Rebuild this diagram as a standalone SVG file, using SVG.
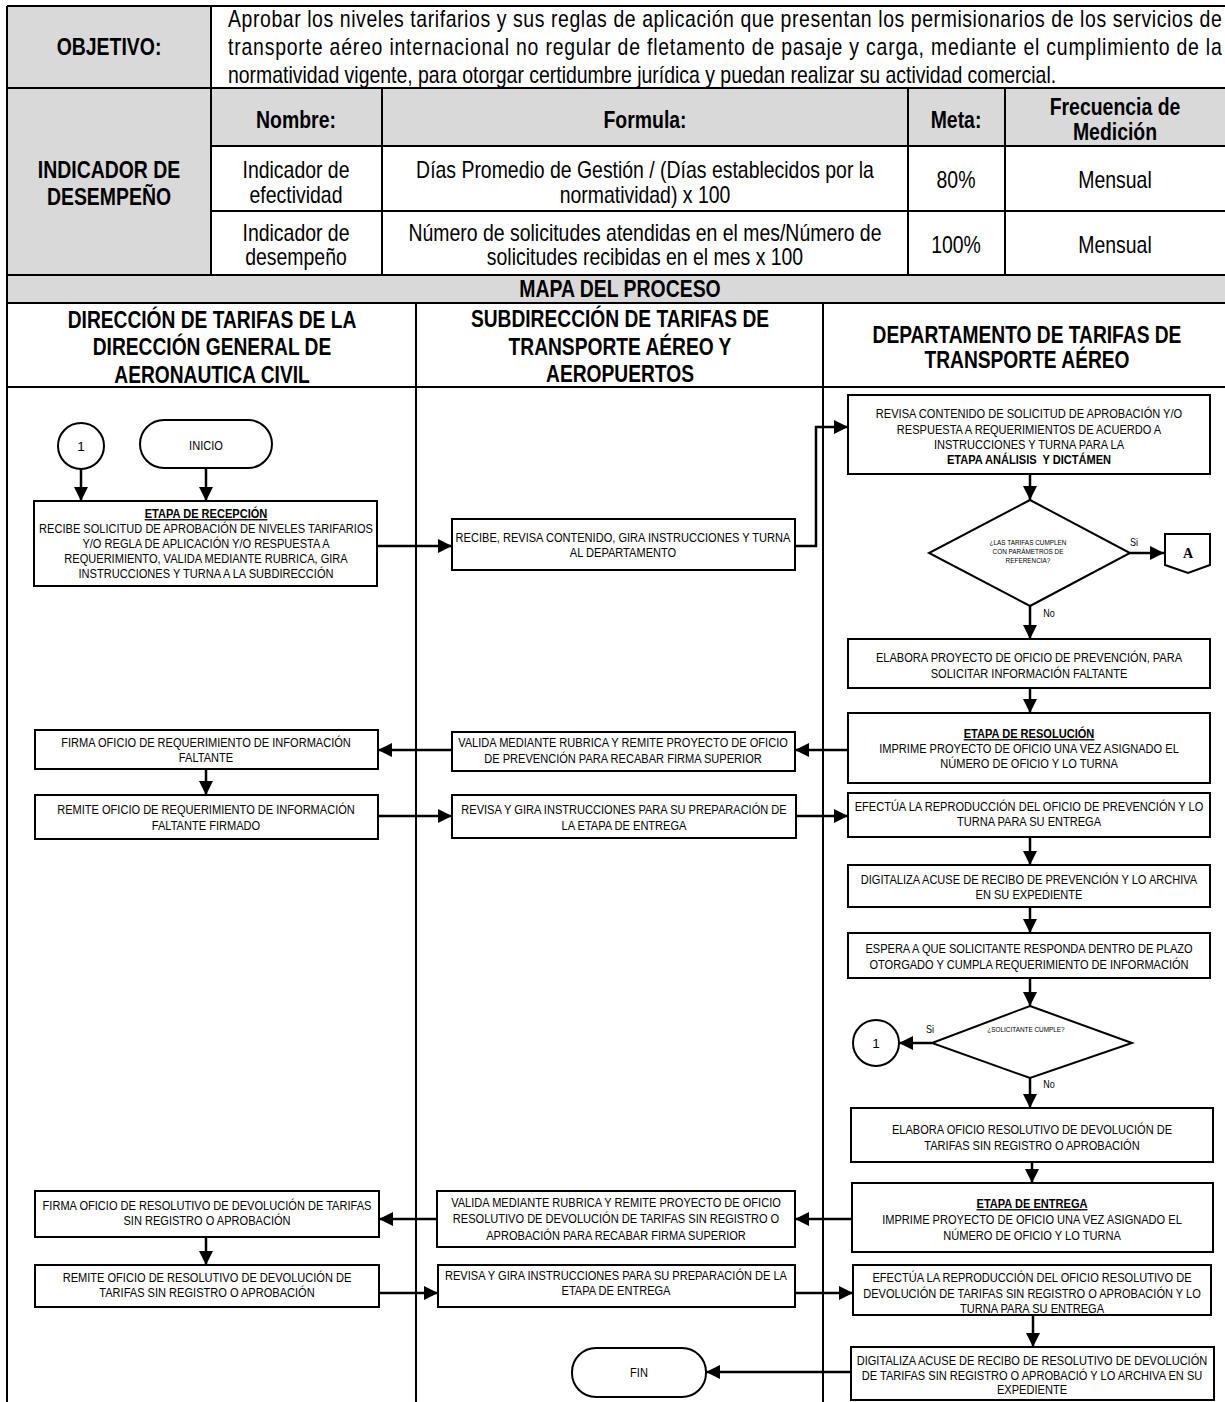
<svg xmlns="http://www.w3.org/2000/svg" width="1225" height="1402" viewBox="0 0 1225 1402">
<style>
.tt{font-family:"Liberation Sans",Arial,sans-serif;font-size:23px;text-anchor:middle;fill:#000}
.tl{font-family:"Liberation Sans",Arial,sans-serif;font-size:23px;fill:#000}
.b{font-weight:bold}
.bx{font-family:"Liberation Sans",Arial,sans-serif;font-size:13.5px;text-anchor:middle;fill:#000}
.sm{font-family:"Liberation Sans",Arial,sans-serif;font-size:8px;text-anchor:middle;fill:#000}
.lb{font-family:"Liberation Sans",Arial,sans-serif;font-size:11px;text-anchor:middle;fill:#000}
.u{text-decoration:underline}
.box{fill:#fff;stroke:#000;stroke-width:2}
.cn{fill:none;stroke:#000;stroke-width:2.5}
.ln{stroke:#000;stroke-width:2;fill:none}
.gr{fill:#d9d9d9}
</style>
<defs>
<marker id="ah" markerUnits="userSpaceOnUse" markerWidth="16" markerHeight="16" refX="14" refY="8" orient="auto" viewBox="0 0 16 16"><path d="M0,1 L14,8 L0,15 z" fill="#000"/></marker>
</defs>
<rect width="1225" height="1402" fill="#fff"/>
<g id="table">
<rect class="gr" x="7" y="6" width="204" height="82"/>
<rect class="gr" x="7" y="88" width="204" height="187"/>
<rect class="gr" x="211" y="88" width="1014" height="58"/>
<rect class="gr" x="7" y="275" width="1218" height="28"/>
<path class="ln" d="M7,6H1225M7,88H1225M211,146H1225M211,211H1225M7,275H1225M7,303H1225M7,387H1225M7,6V1402M211,6V275M382,88V275M908,88V275M1005,88V275M416,303V1402M823,303V1402"/>
<text class="tt b" transform="translate(109 55) scale(0.845 1)">OBJETIVO:</text>
<text class="tl" transform="translate(228 27) scale(0.845 1)" textLength="1176" lengthAdjust="spacing">Aprobar los niveles tarifarios y sus reglas de aplicación que presentan los permisionarios de los servicios de</text>
<text class="tl" transform="translate(228 55) scale(0.845 1)" textLength="1176" lengthAdjust="spacing">transporte aéreo internacional no regular de fletamento de pasaje y carga, mediante el cumplimiento de la</text>
<text class="tl" transform="translate(228 83) scale(0.845 1)">normatividad vigente, para otorgar certidumbre jurídica y puedan realizar su actividad comercial.</text>
<text class="tt b" transform="translate(109 178) scale(0.845 1)">INDICADOR DE</text>
<text class="tt b" transform="translate(109 205) scale(0.845 1)">DESEMPEÑO</text>
<text class="tt b" transform="translate(296 128) scale(0.845 1)">Nombre:</text>
<text class="tt b" transform="translate(645 128) scale(0.845 1)">Formula:</text>
<text class="tt b" transform="translate(956 128) scale(0.845 1)">Meta:</text>
<text class="tt b" transform="translate(1115 115) scale(0.845 1)">Frecuencia de</text>
<text class="tt b" transform="translate(1115 140) scale(0.845 1)">Medición</text>
<text class="tt" transform="translate(296 178) scale(0.845 1)">Indicador de</text>
<text class="tt" transform="translate(296 203) scale(0.845 1)">efectividad</text>
<text class="tt" transform="translate(645 178) scale(0.845 1)">Días Promedio de Gestión / (Días establecidos por la</text>
<text class="tt" transform="translate(645 203) scale(0.845 1)">normatividad) x 100</text>
<text class="tt" transform="translate(956 188) scale(0.845 1)">80%</text>
<text class="tt" transform="translate(1115 188) scale(0.845 1)">Mensual</text>
<text class="tt" transform="translate(296 241) scale(0.845 1)">Indicador de</text>
<text class="tt" transform="translate(296 265) scale(0.845 1)">desempeño</text>
<text class="tt" transform="translate(645 241) scale(0.845 1)">Número de solicitudes atendidas en el mes/Número de</text>
<text class="tt" transform="translate(645 265) scale(0.845 1)">solicitudes recibidas en el mes x 100</text>
<text class="tt" transform="translate(956 253) scale(0.845 1)">100%</text>
<text class="tt" transform="translate(1115 253) scale(0.845 1)">Mensual</text>
<text class="tt b" transform="translate(620 297) scale(0.845 1)">MAPA DEL PROCESO</text>
</g>
<g id="lanes">
<text class="tt b" transform="translate(212 328) scale(0.835 1)">DIRECCIÓN DE TARIFAS DE LA</text>
<text class="tt b" transform="translate(212 355) scale(0.835 1)">DIRECCIÓN GENERAL DE</text>
<text class="tt b" transform="translate(212 383) scale(0.835 1)">AERONAUTICA CIVIL</text>
<text class="tt b" transform="translate(620 327) scale(0.835 1)">SUBDIRECCIÓN DE TARIFAS DE</text>
<text class="tt b" transform="translate(620 355) scale(0.835 1)">TRANSPORTE AÉREO Y</text>
<text class="tt b" transform="translate(620 382) scale(0.835 1)">AEROPUERTOS</text>
<text class="tt b" transform="translate(1027 343) scale(0.835 1)">DEPARTAMENTO DE TARIFAS DE</text>
<text class="tt b" transform="translate(1027 368) scale(0.835 1)">TRANSPORTE AÉREO</text>
</g>
<g id="connectors">
<path class="cn" marker-end="url(#ah)" d="M81,469V501"/>
<path class="cn" marker-end="url(#ah)" d="M206,468V501"/>
<path class="cn" marker-end="url(#ah)" d="M377,546H452"/>
<path class="cn" marker-end="url(#ah)" d="M795,546H816V427H848"/>
<path class="cn" marker-end="url(#ah)" d="M1030,474V500"/>
<path class="cn" marker-end="url(#ah)" d="M1130,553H1164"/>
<path class="cn" marker-end="url(#ah)" d="M1030,605V639"/>
<path class="cn" marker-end="url(#ah)" d="M1030,688V713"/>
<path class="cn" marker-end="url(#ah)" d="M848,750H795"/>
<path class="cn" marker-end="url(#ah)" d="M452,750H378"/>
<path class="cn" marker-end="url(#ah)" d="M206,769V795"/>
<path class="cn" marker-end="url(#ah)" d="M378,816H452"/>
<path class="cn" marker-end="url(#ah)" d="M796,816H848"/>
<path class="cn" marker-end="url(#ah)" d="M1030,837V865"/>
<path class="cn" marker-end="url(#ah)" d="M1030,907V933"/>
<path class="cn" marker-end="url(#ah)" d="M1030,978V1006"/>
<path class="cn" marker-end="url(#ah)" d="M932,1043H899"/>
<path class="cn" marker-end="url(#ah)" d="M1030,1078V1108"/>
<path class="cn" marker-end="url(#ah)" d="M1032,1162V1183"/>
<path class="cn" marker-end="url(#ah)" d="M852,1219H795"/>
<path class="cn" marker-end="url(#ah)" d="M437,1219H379"/>
<path class="cn" marker-end="url(#ah)" d="M206,1237V1265"/>
<path class="cn" marker-end="url(#ah)" d="M379,1293H438"/>
<path class="cn" marker-end="url(#ah)" d="M795,1293H853"/>
<path class="cn" marker-end="url(#ah)" d="M1033,1315V1347"/>
<path class="cn" marker-end="url(#ah)" d="M851,1372H706"/>
</g>
<g id="c1-top"><circle class="box" cx="81" cy="446" r="23"/><text class="bx" x="81" y="451">1</text></g>
<g id="inicio"><rect class="box" x="140" y="420" width="132" height="48" rx="24"/><text class="bx" transform="translate(206 450) scale(0.82 1)">INICIO</text></g>
<g id="n-recepcion"><rect class="box" x="34" y="501" width="343" height="85"/>
<text class="bx b u" transform="translate(206 518) scale(0.82 1)">ETAPA DE RECEPCIÓN</text>
<text class="bx" transform="translate(206 533) scale(0.82 1)">RECIBE SOLICITUD DE APROBACIÓN DE NIVELES TARIFARIOS</text>
<text class="bx" transform="translate(206 548) scale(0.82 1)">Y/O REGLA DE APLICACIÓN Y/O RESPUESTA A</text>
<text class="bx" transform="translate(206 563) scale(0.82 1)">REQUERIMIENTO, VALIDA MEDIANTE RUBRICA, GIRA</text>
<text class="bx" transform="translate(206 578) scale(0.82 1)">INSTRUCCIONES Y TURNA A LA SUBDIRECCIÓN</text></g>
<g id="n-recibe"><rect class="box" x="452" y="519" width="343" height="51"/>
<text class="bx" transform="translate(623 542) scale(0.82 1)">RECIBE, REVISA CONTENIDO, GIRA INSTRUCCIONES Y TURNA</text>
<text class="bx" transform="translate(623 557) scale(0.82 1)">AL DEPARTAMENTO</text></g>
<g id="n-revisa"><rect class="box" x="848" y="395" width="362" height="79"/>
<text class="bx" transform="translate(1029 418) scale(0.82 1)">REVISA CONTENIDO DE SOLICITUD DE APROBACIÓN Y/O</text>
<text class="bx" transform="translate(1029 434) scale(0.82 1)">RESPUESTA A REQUERIMIENTOS DE ACUERDO A</text>
<text class="bx" transform="translate(1029 449) scale(0.82 1)">INSTRUCCIONES Y TURNA PARA LA</text>
<text class="bx b" transform="translate(1029 464) scale(0.82 1)">ETAPA ANÁLISIS&#160; Y DICTÁMEN</text></g>
<g id="d-tarifas"><path class="box" d="M1030,500L1130,553L1030,606L929,553Z"/>
<text class="sm" transform="translate(1028 545) scale(0.8 1)">¿LAS TARIFAS CUMPLEN</text>
<text class="sm" transform="translate(1028 554) scale(0.8 1)">CON PARÁMETROS DE</text>
<text class="sm" transform="translate(1028 563) scale(0.8 1)">REFERENCIA?</text>
<text class="lb" transform="translate(1134 546) scale(0.82 1)">Si</text>
<text class="lb" transform="translate(1049 617) scale(0.82 1)">No</text></g>
<g id="off-a"><path class="box" d="M1165,534H1210V565L1188,573L1165,565Z"/>
<text x="1188" y="558" style="font-family:'Liberation Serif','Times New Roman',serif;font-size:14px;font-weight:bold;text-anchor:middle">A</text></g>
<g id="n-elabora-prev"><rect class="box" x="848" y="639" width="362" height="49"/>
<text class="bx" transform="translate(1029 662) scale(0.82 1)">ELABORA PROYECTO DE OFICIO DE PREVENCIÓN, PARA</text>
<text class="bx" transform="translate(1029 678) scale(0.82 1)">SOLICITAR INFORMACIÓN FALTANTE</text></g>
<g id="n-resolucion"><rect class="box" x="848" y="713" width="362" height="70"/>
<text class="bx b u" transform="translate(1029 738) scale(0.82 1)">ETAPA DE RESOLUCIÓN</text>
<text class="bx" transform="translate(1029 753) scale(0.82 1)">IMPRIME PROYECTO DE OFICIO UNA VEZ ASIGNADO EL</text>
<text class="bx" transform="translate(1029 768) scale(0.82 1)">NÚMERO DE OFICIO Y LO TURNA</text></g>
<g id="n-valida-prev"><rect class="box" x="452" y="732" width="343" height="39"/>
<text class="bx" transform="translate(623 747) scale(0.82 1)">VALIDA MEDIANTE RUBRICA Y REMITE PROYECTO DE OFICIO</text>
<text class="bx" transform="translate(623 763) scale(0.82 1)">DE PREVENCIÓN PARA RECABAR FIRMA SUPERIOR</text></g>
<g id="n-firma-req"><rect class="box" x="35" y="730" width="343" height="39"/>
<text class="bx" transform="translate(206 747) scale(0.82 1)">FIRMA OFICIO DE REQUERIMIENTO DE INFORMACIÓN</text>
<text class="bx" transform="translate(206 762) scale(0.82 1)">FALTANTE</text></g>
<g id="n-remite-req"><rect class="box" x="35" y="795" width="343" height="44"/>
<text class="bx" transform="translate(206 814) scale(0.82 1)">REMITE OFICIO DE REQUERIMIENTO DE INFORMACIÓN</text>
<text class="bx" transform="translate(206 830) scale(0.82 1)">FALTANTE FIRMADO</text></g>
<g id="n-revisa-gira"><rect class="box" x="452" y="795" width="344" height="43"/>
<text class="bx" transform="translate(624 814) scale(0.82 1)">REVISA Y GIRA INSTRUCCIONES PARA SU PREPARACIÓN DE</text>
<text class="bx" transform="translate(624 830) scale(0.82 1)">LA ETAPA DE ENTREGA</text></g>
<g id="n-efectua-prev"><rect class="box" x="848" y="793" width="362" height="44"/>
<text class="bx" transform="translate(1029 811) scale(0.82 1)">EFECTÚA LA REPRODUCCIÓN DEL OFICIO DE PREVENCIÓN Y LO</text>
<text class="bx" transform="translate(1029 826) scale(0.82 1)">TURNA PARA SU ENTREGA</text></g>
<g id="n-digitaliza-prev"><rect class="box" x="848" y="865" width="362" height="42"/>
<text class="bx" transform="translate(1029 884) scale(0.82 1)">DIGITALIZA ACUSE DE RECIBO DE PREVENCIÓN Y LO ARCHIVA</text>
<text class="bx" transform="translate(1029 899) scale(0.82 1)">EN SU EXPEDIENTE</text></g>
<g id="n-espera"><rect class="box" x="848" y="933" width="362" height="45"/>
<text class="bx" transform="translate(1029 953) scale(0.82 1)">ESPERA A QUE SOLICITANTE RESPONDA DENTRO DE PLAZO</text>
<text class="bx" transform="translate(1029 969) scale(0.82 1)">OTORGADO Y CUMPLA REQUERIMIENTO DE INFORMACIÓN</text></g>
<g id="d-cumple"><path class="box" d="M1030,1006L1132,1043L1030,1078L932,1043Z"/>
<text class="sm" transform="translate(1026 1032) scale(0.8 1)">¿SOLICITANTE CUMPLE?</text>
<text class="lb" transform="translate(930 1033) scale(0.82 1)">Si</text>
<text class="lb" transform="translate(1049 1088) scale(0.82 1)">No</text></g>
<g id="c1-bottom"><circle class="box" cx="876" cy="1043" r="23"/><text class="bx" x="876" y="1048">1</text></g>
<g id="n-elabora-res"><rect class="box" x="851" y="1108" width="362" height="54"/>
<text class="bx" transform="translate(1032 1134) scale(0.82 1)">ELABORA OFICIO RESOLUTIVO DE DEVOLUCIÓN DE</text>
<text class="bx" transform="translate(1032 1150) scale(0.82 1)">TARIFAS SIN REGISTRO O APROBACIÓN</text></g>
<g id="n-entrega"><rect class="box" x="852" y="1183" width="361" height="69"/>
<text class="bx b u" transform="translate(1032 1208) scale(0.82 1)">ETAPA DE ENTREGA</text>
<text class="bx" transform="translate(1032 1224) scale(0.82 1)">IMPRIME PROYECTO DE OFICIO UNA VEZ ASIGNADO EL</text>
<text class="bx" transform="translate(1032 1240) scale(0.82 1)">NÚMERO DE OFICIO Y LO TURNA</text></g>
<g id="n-valida-res"><rect class="box" x="437" y="1191" width="358" height="56"/>
<text class="bx" transform="translate(616 1207) scale(0.82 1)">VALIDA MEDIANTE RUBRICA Y REMITE PROYECTO DE OFICIO</text>
<text class="bx" transform="translate(616 1223) scale(0.82 1)">RESOLUTIVO DE DEVOLUCIÓN DE TARIFAS SIN REGISTRO O</text>
<text class="bx" transform="translate(616 1240) scale(0.82 1)">APROBACIÓN PARA RECABAR FIRMA SUPERIOR</text></g>
<g id="n-firma-res"><rect class="box" x="35" y="1191" width="344" height="46"/>
<text class="bx" transform="translate(207 1210) scale(0.82 1)">FIRMA OFICIO DE RESOLUTIVO DE DEVOLUCIÓN DE TARIFAS</text>
<text class="bx" transform="translate(207 1225) scale(0.82 1)">SIN REGISTRO O APROBACIÓN</text></g>
<g id="n-remite-res"><rect class="box" x="35" y="1265" width="344" height="42"/>
<text class="bx" transform="translate(207 1282) scale(0.82 1)">REMITE OFICIO DE RESOLUTIVO DE DEVOLUCIÓN DE</text>
<text class="bx" transform="translate(207 1297) scale(0.82 1)">TARIFAS SIN REGISTRO O APROBACIÓN</text></g>
<g id="n-revisa-res"><rect class="box" x="438" y="1265" width="357" height="42"/>
<text class="bx" transform="translate(616 1280) scale(0.82 1)">REVISA Y GIRA INSTRUCCIONES PARA SU PREPARACIÓN DE LA</text>
<text class="bx" transform="translate(616 1295) scale(0.82 1)">ETAPA DE ENTREGA</text></g>
<g id="n-efectua-res"><rect class="box" x="853" y="1265" width="358" height="50"/>
<text class="bx" transform="translate(1032 1282) scale(0.82 1)">EFECTÚA LA REPRODUCCIÓN DEL OFICIO RESOLUTIVO DE</text>
<text class="bx" transform="translate(1032 1298) scale(0.82 1)">DEVOLUCIÓN DE TARIFAS SIN REGISTRO O APROBACIÓN Y LO</text>
<text class="bx" transform="translate(1032 1313) scale(0.82 1)">TURNA PARA SU ENTREGA</text></g>
<g id="n-digitaliza-res"><rect class="box" x="851" y="1347" width="363" height="53"/>
<text class="bx" transform="translate(1032 1365) scale(0.82 1)">DIGITALIZA ACUSE DE RECIBO DE RESOLUTIVO DE DEVOLUCIÓN</text>
<text class="bx" transform="translate(1032 1380) scale(0.82 1)">DE TARIFAS SIN REGISTRO O APROBACIÓ Y LO ARCHIVA EN SU</text>
<text class="bx" transform="translate(1032 1394) scale(0.82 1)">EXPEDIENTE</text></g>
<g id="fin"><rect class="box" x="572" y="1348" width="134" height="49" rx="24"/><text class="bx" transform="translate(639 1377) scale(0.82 1)">FIN</text></g>
</svg>
